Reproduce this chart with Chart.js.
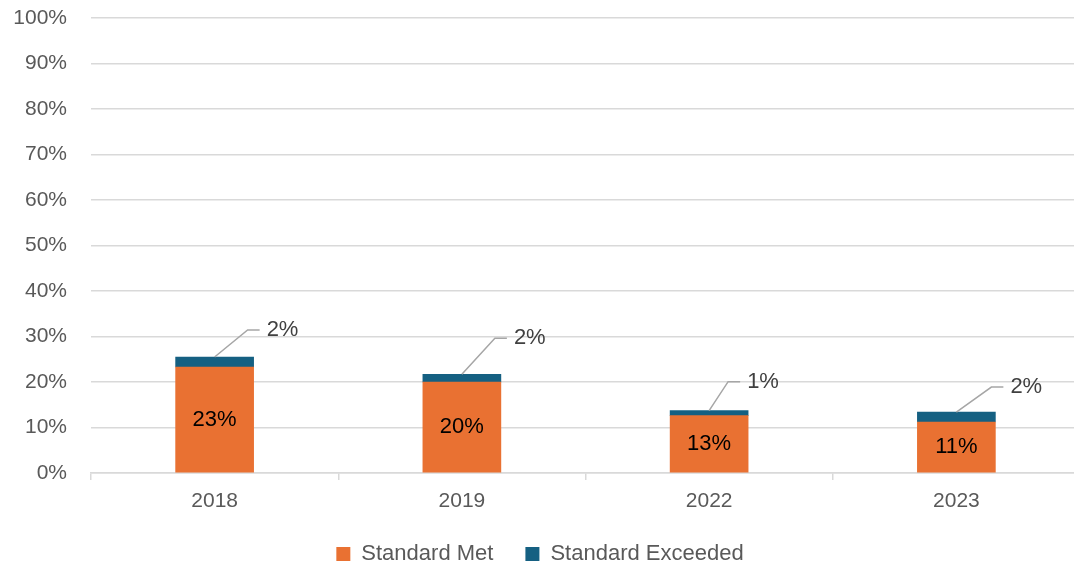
<!DOCTYPE html>
<html>
<head>
<meta charset="utf-8">
<script src="https://cdn.jsdelivr.net/npm/chart.js"></script>
<style>
  html, body { margin: 0; padding: 0; background: #fff; overflow: hidden; }
  #wrap { width: 1080px; height: 567px; }
</style>
</head>
<body>
<div id="wrap"><canvas id="chart"></canvas></div>
<script>
// データ
var years = ["2018", "2019", "2022", "2023"];
var standardMet = [23.3, 20.0, 12.6, 11.2];
var standardExceeded = [2.2, 1.7, 1.1, 2.2];
var yTicks = [0, 10, 20, 30, 40, 50, 60, 70, 80, 90, 100];

var colors = ['#E97132', '#156082'];
var fontFamily = '"Liberation Sans", Arial, sans-serif';

// 引き出し線の向き (dx, dy)
var leaderOffsets = [[33, 27], [33, 36], [19, 29], [35, 25]];

// 棒の中と引き出し線のラベル
var labelPlugin = {
    id: 'labels',
    afterDatasetsDraw: function(chart) {
        var ctx = chart.ctx;
        ctx.save();
        ctx.font = '22px ' + fontFamily;
        ctx.textBaseline = 'middle';

        var met = chart.getDatasetMeta(0);
        met.data.forEach(function(bar, i) {
            ctx.fillStyle = '#000';
            ctx.textAlign = 'center';
            ctx.fillText(Math.round(standardMet[i]) + '%', bar.x, (bar.y + bar.base) / 2);
        });

        var exc = chart.getDatasetMeta(1);
        exc.data.forEach(function(bar, i) {
            var x0 = bar.x, y0 = bar.y;
            var x1 = x0 + leaderOffsets[i][0], y1 = y0 - leaderOffsets[i][1];
            ctx.strokeStyle = '#a6a6a6';
            ctx.lineWidth = 1.5;
            ctx.beginPath();
            ctx.moveTo(x0, y0);
            ctx.lineTo(x1, y1);
            ctx.lineTo(x1 + 12, y1);
            ctx.stroke();
            ctx.fillStyle = '#404040';
            ctx.textAlign = 'left';
            ctx.fillText(Math.round(standardExceeded[i]) + '%', x1 + 19, y1);
        });
        ctx.restore();
    }
};

new Chart(document.getElementById('chart'), {
    type: 'bar',
    data: {
        labels: years,
        datasets: [
            { label: 'Standard Met', data: standardMet, backgroundColor: colors[0], barThickness: 78 },
            { label: 'Standard Exceeded', data: standardExceeded, backgroundColor: colors[1], barThickness: 78 }
        ]
    },
    options: {
        responsive: true,
        maintainAspectRatio: false,
        animation: false,
        layout: { padding: { top: 18, left: 0, right: 0, bottom: 0 } },
        plugins: {
            legend: {
                position: 'bottom',
                maxHeight: 56,
                labels: {
                    boxWidth: 14,
                    boxHeight: 14,
                    padding: 32,
                    color: '#595959',
                    font: { family: fontFamily, size: 22 }
                }
            },
            tooltip: { enabled: false }
        },
        scales: {
            x: {
                stacked: true,
                afterFit: function(scale) { scale.height = 38; },
                grid: {
                    display: true,
                    drawOnChartArea: false,
                    offset: true,
                    color: '#d9d9d9',
                    lineWidth: 1.5,
                    tickLength: 7
                },
                border: { color: '#d9d9d9', width: 1.5 },
                ticks: { color: '#595959', font: { family: fontFamily, size: 21 }, padding: 9 }
            },
            y: {
                stacked: true,
                min: 0,
                max: 100,
                afterFit: function(scale) {
                    scale.width = 91;
                    scale.paddingTop = 0;
                    scale.paddingBottom = 0;
                },
                afterBuildTicks: function(scale) {
                    scale.ticks = yTicks.map(function(v) { return { value: v }; });
                },
                grid: { color: '#d9d9d9', lineWidth: 1.5, drawTicks: false },
                border: { display: false },
                ticks: {
                    color: '#595959',
                    padding: 24,
                    font: { family: fontFamily, size: 21 },
                    callback: function(v) { return v + '%'; }
                }
            }
        }
    },
    plugins: [labelPlugin]
});
</script>
</body>
</html>
